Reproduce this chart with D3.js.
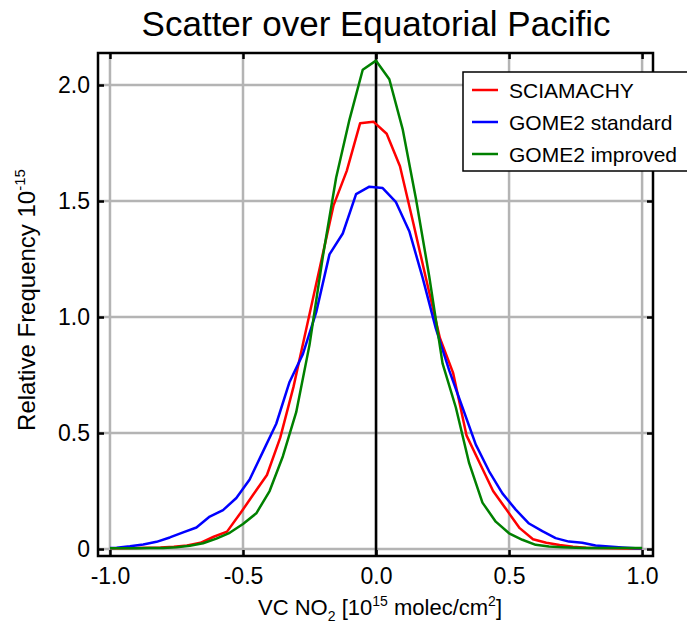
<!DOCTYPE html>
<html>
<head>
<meta charset="utf-8">
<script src="https://cdn.jsdelivr.net/npm/d3@7/dist/d3.min.js"></script>
<style>
  body { margin: 0; background: #fff; }
  text { font-family: "Liberation Sans", Arial, sans-serif; fill: #000; }
</style>
</head>
<body>
<div id="chart"></div>
<script>
// bin centres and values
let sciaX = [-1.0, -0.96, -0.91, -0.86, -0.81, -0.76, -0.71, -0.66, -0.61, -0.56, -0.51, -0.46, -0.41,
    -0.36, -0.31, -0.26, -0.21, -0.16, -0.11, -0.06, -0.01, 0.04, 0.09, 0.14, 0.19, 0.24, 0.29, 0.34,
    0.39, 0.44, 0.49, 0.54, 0.59, 0.64, 0.69, 0.74, 0.79, 0.84, 0.89, 0.94, 0.99, 1.0];
let sciaY = [0.003, 0.003, 0.004, 0.006, 0.007, 0.010, 0.015, 0.027, 0.053, 0.075, 0.154, 0.237, 0.319,
    0.48, 0.70, 0.96, 1.22, 1.48, 1.63, 1.835, 1.842, 1.79, 1.65, 1.405, 1.155, 0.91, 0.758, 0.49,
    0.37, 0.25, 0.17, 0.09, 0.042, 0.027, 0.017, 0.010, 0.006, 0.004, 0.003, 0.002, 0.002, 0.002];

let gomeStdX = [-1.0, -0.975, -0.925, -0.875, -0.825, -0.775, -0.725, -0.675, -0.625, -0.575, -0.525,
    -0.475, -0.425, -0.375, -0.325, -0.275, -0.225, -0.175, -0.125, -0.075, -0.025, 0.025, 0.075,
    0.125, 0.175, 0.225, 0.275, 0.325, 0.375, 0.425, 0.475, 0.525, 0.575, 0.625, 0.675, 0.725,
    0.775, 0.825, 0.875, 0.925, 0.975, 1.0];
let gomeStdY = [0.005, 0.006, 0.012, 0.020, 0.031, 0.050, 0.072, 0.093, 0.140, 0.168, 0.220,
    0.300, 0.42, 0.54, 0.72, 0.84, 1.02, 1.27, 1.36, 1.53, 1.562, 1.556, 1.495,
    1.37, 1.17, 0.95, 0.77, 0.61, 0.45, 0.335, 0.24, 0.17, 0.11, 0.077, 0.047, 0.032,
    0.027, 0.015, 0.011, 0.007, 0.003, 0.003];

let gomeImpX = [-1.0, -0.95, -0.9, -0.85, -0.8, -0.75, -0.7, -0.65, -0.6, -0.55, -0.5, -0.45, -0.4,
    -0.35, -0.3, -0.25, -0.2, -0.15, -0.1, -0.05, 0.0, 0.05, 0.1, 0.15, 0.2, 0.25, 0.3, 0.35, 0.4,
    0.45, 0.5, 0.55, 0.6, 0.65, 0.7, 0.75, 0.8, 0.85, 0.9, 0.95, 1.0];
let gomeImpY = [0.003, 0.003, 0.003, 0.004, 0.005, 0.008, 0.014, 0.025, 0.045, 0.070, 0.108, 0.154, 0.25,
    0.40, 0.59, 0.88, 1.26, 1.60, 1.85, 2.066, 2.105, 2.025, 1.81, 1.51, 1.175, 0.80, 0.61, 0.37, 0.20,
    0.118, 0.068, 0.040, 0.018, 0.011, 0.008, 0.006, 0.005, 0.004, 0.004, 0.004, 0.005];

let seriesNames = ["SCIAMACHY", "GOME2 standard", "GOME2 improved"];
let seriesColors = ["#ff0000", "#0000ff", "#008000"];
let xTicks = [-1.0, -0.5, 0.0, 0.5, 1.0];
let yTicks = [0, 0.5, 1.0, 1.5, 2.0];

let series = [
    { name: seriesNames[0], color: seriesColors[0], values: sciaX.map((x, i) => ({ x: x, y: sciaY[i] })) },
    { name: seriesNames[1], color: seriesColors[1], values: gomeStdX.map((x, i) => ({ x: x, y: gomeStdY[i] })) },
    { name: seriesNames[2], color: seriesColors[2], values: gomeImpX.map((x, i) => ({ x: x, y: gomeImpY[i] })) }
];

let margin = { top: 53, right: 34, bottom: 70, left: 98 };
let totalWidth = 687, totalHeight = 626;
let width = totalWidth - margin.left - margin.right;
let height = totalHeight - margin.top - margin.bottom;
let tickLen = 6;

let svg = d3.select("#chart").append("svg")
    .attr("width", totalWidth)
    .attr("height", totalHeight);

let g = svg.append("g")
    .attr("transform", `translate(${margin.left}, ${margin.top})`);

let x = d3.scaleLinear()
    .domain([-1.045, 1.041])
    .range([0, width]);

let y = d3.scaleLinear()
    .domain([-0.03, 2.138])
    .range([height, 0]);

// grid
g.append("g").attr("class", "grid")
    .selectAll("line")
    .data(xTicks)
    .enter().append("line")
    .attr("x1", d => x(d)).attr("x2", d => x(d))
    .attr("y1", 0).attr("y2", height)
    .attr("stroke", "#b4b4b4").attr("stroke-width", 2.5);

g.append("g").attr("class", "grid")
    .selectAll("line")
    .data(yTicks)
    .enter().append("line")
    .attr("x1", 0).attr("x2", width)
    .attr("y1", d => y(d)).attr("y2", d => y(d))
    .attr("stroke", "#b4b4b4").attr("stroke-width", 2.5);

// zero line
g.append("line")
    .attr("x1", x(0)).attr("x2", x(0))
    .attr("y1", 0).attr("y2", height)
    .attr("stroke", "#000").attr("stroke-width", 2.5);

// curves
let line = d3.line()
    .x(d => x(d.x))
    .y(d => y(d.y));

g.selectAll(".line")
    .data(series)
    .enter().append("path")
    .attr("class", "line")
    .attr("d", d => line(d.values))
    .attr("fill", "none")
    .attr("stroke", d => d.color)
    .attr("stroke-width", 2.5)
    .attr("stroke-linejoin", "round");

// axes, ticks pointing inward on all four sides
let axisStyle = function (sel) {
    sel.select(".domain").remove();
    sel.selectAll(".tick line").attr("stroke", "#000").attr("stroke-width", 2.5);
    sel.selectAll(".tick text").style("font-size", "23px").style("font-family", "Liberation Sans, Arial, sans-serif");
};

g.append("g")
    .attr("transform", `translate(0, ${height})`)
    .call(d3.axisBottom(x).tickValues(xTicks).tickFormat(d => d3.format(".1f")(d).replace("\u2212", "-")).tickSizeInner(-tickLen).tickSizeOuter(0).tickPadding(12))
    .call(axisStyle);

g.append("g")
    .call(d3.axisTop(x).tickValues(xTicks).tickFormat("").tickSizeInner(-tickLen).tickSizeOuter(0))
    .call(axisStyle);

g.append("g")
    .call(d3.axisLeft(y).tickValues(yTicks).tickFormat(d => d === 0 ? "0" : d3.format(".1f")(d)).tickSizeInner(-tickLen).tickSizeOuter(0).tickPadding(8))
    .call(axisStyle);

g.append("g")
    .attr("transform", `translate(${width}, 0)`)
    .call(d3.axisRight(y).tickValues(yTicks).tickFormat("").tickSizeInner(-tickLen).tickSizeOuter(0))
    .call(axisStyle);

// frame
g.append("rect")
    .attr("width", width).attr("height", height)
    .attr("fill", "none").attr("stroke", "#000").attr("stroke-width", 2.5);

// legend
let legend = g.append("g")
    .attr("transform", "translate(365, 19)");

legend.append("rect")
    .attr("x", 0).attr("y", 0)
    .attr("width", 250).attr("height", 99)
    .attr("fill", "#fff").attr("stroke", "#000").attr("stroke-width", 1.5);

let entry = legend.selectAll(".entry")
    .data(series)
    .enter().append("g")
    .attr("class", "entry")
    .attr("transform", (d, i) => `translate(0, ${18 + i * 32})`);

entry.append("line")
    .attr("x1", 9).attr("x2", 35)
    .attr("stroke", d => d.color).attr("stroke-width", 2.5);

entry.append("text")
    .attr("x", 46).attr("y", 7.5)
    .style("font-size", "21px")
    .text(d => d.name);

// titles
svg.append("text")
    .attr("x", margin.left + x(0)).attr("y", 36)
    .attr("text-anchor", "middle")
    .style("font-size", "35px")
    .text("Scatter over Equatorial Pacific");

let xTitle = svg.append("text")
    .attr("x", margin.left + x(0) + 4).attr("y", 615)
    .attr("text-anchor", "middle")
    .style("font-size", "22px");
xTitle.append("tspan").text("VC NO");
xTitle.append("tspan").attr("dy", 6).style("font-size", "14px").text("2");
xTitle.append("tspan").attr("dy", -6).text(" [10");
xTitle.append("tspan").attr("dy", -9).style("font-size", "14px").text("15");
xTitle.append("tspan").attr("dy", 9).text(" molec/cm");
xTitle.append("tspan").attr("dy", -9).style("font-size", "14px").text("2");
xTitle.append("tspan").attr("dy", 9).text("]");

let yTitle = svg.append("text")
    .attr("transform", `translate(35, 300) rotate(-90)`)
    .attr("text-anchor", "middle")
    .style("font-size", "24px");
yTitle.append("tspan").text("Relative Frequency 10");
yTitle.append("tspan").attr("dy", -10).style("font-size", "15px").text("-15");
</script>
</body>
</html>
